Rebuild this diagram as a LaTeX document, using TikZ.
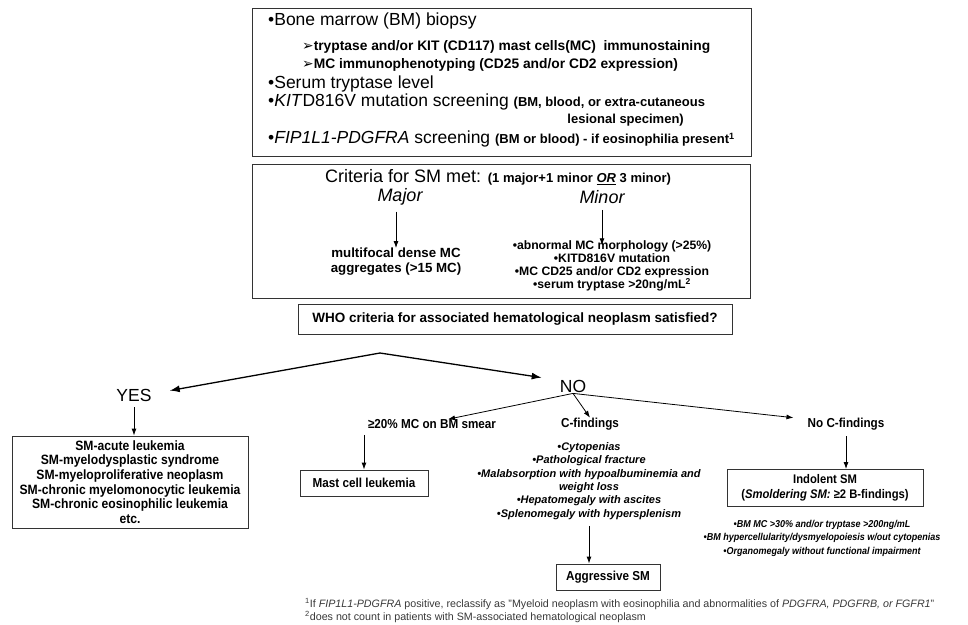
\documentclass[tikz,border=0pt]{standalone}
\usepackage{fontspec}
\setmainfont{Liberation Sans}
\newfontfamily\narrowfont[FakeStretch=0.9]{Liberation Sans}
\newfontfamily\symfont{DejaVu Sans}
\usetikzlibrary{positioning, arrows.meta}
\newcommand{\nbf}{\narrowfont\bfseries}
\newcommand{\parfont}{\fontsize{13}{15}\selectfont\bfseries}

\begin{document}
\begin{tikzpicture}[
  x=1pt, y=-1pt,
  frame/.style={draw=black!80, line width=0.9pt, inner sep=0pt},
  head/.style={anchor=west, inner sep=0pt, font=\fontsize{17.5}{20}\selectfont},
  sub/.style={anchor=west, inner sep=0pt, font=\fontsize{13.8}{16}\selectfont\bfseries},
  title/.style={inner sep=0pt, font=\fontsize{18}{20}\selectfont},
  note/.style={inner sep=0pt, align=center, font=\fontsize{13}{15}\selectfont\nbf},
  finding/.style={inner sep=0pt, align=center, font=\fontsize{11}{13.4}\selectfont\bfseries\itshape},
  outcome/.style={frame, align=center, font=\fontsize{13}{14.5}\selectfont\nbf},
  answer/.style={inner sep=1pt, font=\fontsize{17.5}{20}\selectfont},
  fork/.style={-{Latex[length=10pt,width=7pt]}, line width=1.3pt},
  down/.style={-{Latex[length=7pt,width=5pt]}, line width=0.9pt},
  footnote/.style={anchor=west, inner sep=0pt, text=black!78, font=\fontsize{10.7}{12}\selectfont},
]
\useasboundingbox (0,0) rectangle (968,624);

% work-up box
\node[frame, minimum width=499, minimum height=148] (workup) at (501.5,82) {};
\node[head] (biopsy) at (268,21) {•Bone marrow (BM) biopsy};
\node[sub] (stain) at (302,47) {{\symfont\mdseries ➢}tryptase and/or KIT (CD117) mast cells(MC)\ \ immunostaining};
\node[sub] (pheno) at (302,65) {{\symfont\mdseries ➢}MC immunophenotyping (CD25 and/or CD2 expression)};
\node[head] (serum) at (268,84) {•Serum tryptase level};
\node[head] (kit) at (268,102) {•\textit{KIT}D816V mutation screening {\parfont (BM, blood, or extra-cutaneous}};
\node[sub, font=\parfont, anchor=east] (lesion) at (684,120) {lesional specimen)};
\node[head] (fip) at (268,139) {•\textit{FIP1L1-PDGFRA} screening {\parfont (BM or blood) - if eosinophilia present\textsuperscript{1}}};

% criteria box
\node[frame, minimum width=498, minimum height=134] (critbox) at (501,231) {};
\node[title, anchor=west] (crit) at (325,177)
  {Criteria for SM met: {\parfont (1 major+1 minor \underline{\textit{OR}} 3 minor)}};
\node[title, font=\fontsize{18}{20}\selectfont\itshape] (major) at (400,197) {Major};
\node[title, font=\fontsize{18}{20}\selectfont\itshape] (minor) at (602,197) {Minor};
\node[inner sep=0pt, align=center, font=\fontsize{13.3}{15}\selectfont\bfseries] (dense) at (396,262)
  {multifocal dense MC\\aggregates (>15 MC)};
\node[inner sep=0pt, align=center, font=\fontsize{12.2}{13.2}\selectfont\bfseries] (minlist) at (612,266)
  {•abnormal MC morphology (>25\%)\\•KITD816V mutation\\•MC CD25 and/or CD2 expression\\•serum tryptase >20ng/mL\textsuperscript{2}};
\draw[down, shorten <=6pt] (major.south -| dense.north) -- (dense.north);
\draw[down, shorten <=6pt, shorten >=-5pt] (minor.south) -- (minor.south |- minlist.north);

% WHO question
\node[frame, minimum width=434, minimum height=30, font=\fontsize{13.5}{15}\selectfont\bfseries] (who) at (515,319)
  {WHO criteria for associated hematological neoplasm satisfied?};

% yes / no fork
\coordinate (split) at (380,353);
\node[answer] (yes) at (134,395) {YES};
\node[answer] (no) at (573,386) {NO};
\draw[fork] (split) -- ([shift={(17,3)}]yes.north east);
\draw[fork] (split) -- ([shift={(-17,-1)}]no.north west);

% YES branch
\node[outcome, minimum width=236, minimum height=92, font=\fontsize{13.5}{14.6}\selectfont\nbf] (assoc) at (130,482)
  {SM-acute leukemia\\SM-myelodysplastic syndrome\\SM-myeloproliferative neoplasm\\SM-chronic myelomonocytic leukemia\\SM-chronic eosinophilic leukemia\\etc.};
\draw[down, shorten <=5pt] (yes.south) -- (yes.south |- assoc.north);

% NO branch
\node[note] (smear) at (432,424) {≥20\% MC on BM smear};
\node[note] (cfind) at (590,424) {C-findings};
\node[note] (nocfind) at (846,424) {No C-findings};
\draw[down, line width=0.8pt] (no.south) -- ([xshift=16pt]smear.north);
\draw[down, line width=0.8pt] (no.south) -- (cfind.north);
\draw[down, line width=0.8pt] (no.south) -- ([xshift=-14pt]nocfind.north west);

\node[outcome, minimum width=128, minimum height=26] (mcl) at (364,483) {Mast cell leukemia};
\draw[down, shorten <=6pt] (smear.south -| mcl.north) -- (mcl.north);

\node[finding] (clist) at (589,481)
  {•Cytopenias\\•Pathological fracture\\•Malabsorption with hypoalbuminemia and\\weight loss\\•Hepatomegaly with ascites\\•Splenomegaly with hypersplenism};
\node[outcome, minimum width=104, minimum height=26] (aggr) at (608,577) {Aggressive SM};
\draw[down, shorten <=6pt] (clist.south) -- (clist.south |- aggr.north);

\node[outcome, minimum width=196, minimum height=37, font=\fontsize{12.5}{15}\selectfont\nbf] (isd) at (825,488)
  {Indolent SM\\(\textit{Smoldering SM:} ≥2 B-findings)};
\draw[down, shorten <=6pt] (nocfind.south) -- (nocfind.south |- isd.north);
\node[finding, font=\fontsize{10}{13.5}\selectfont\nbf\itshape] (blist) at (822,538)
  {•BM MC >30\% and/or tryptase >200ng/mL\\•BM hypercellularity/dysmyelopoiesis w/out cytopenias\\•Organomegaly without functional impairment};

% footnotes
\node[footnote] (fn1) at (305,604)
  {\textsuperscript{1}If \textit{FIP1L1-PDGFRA} positive, reclassify as "Myeloid neoplasm with eosinophilia and abnormalities of \textit{PDGFRA, PDGFRB, or FGFR1}"};
\node[footnote] (fn2) at (305,617)
  {\textsuperscript{2}does not count in patients with SM-associated hematological neoplasm};
\end{tikzpicture}
\end{document}
